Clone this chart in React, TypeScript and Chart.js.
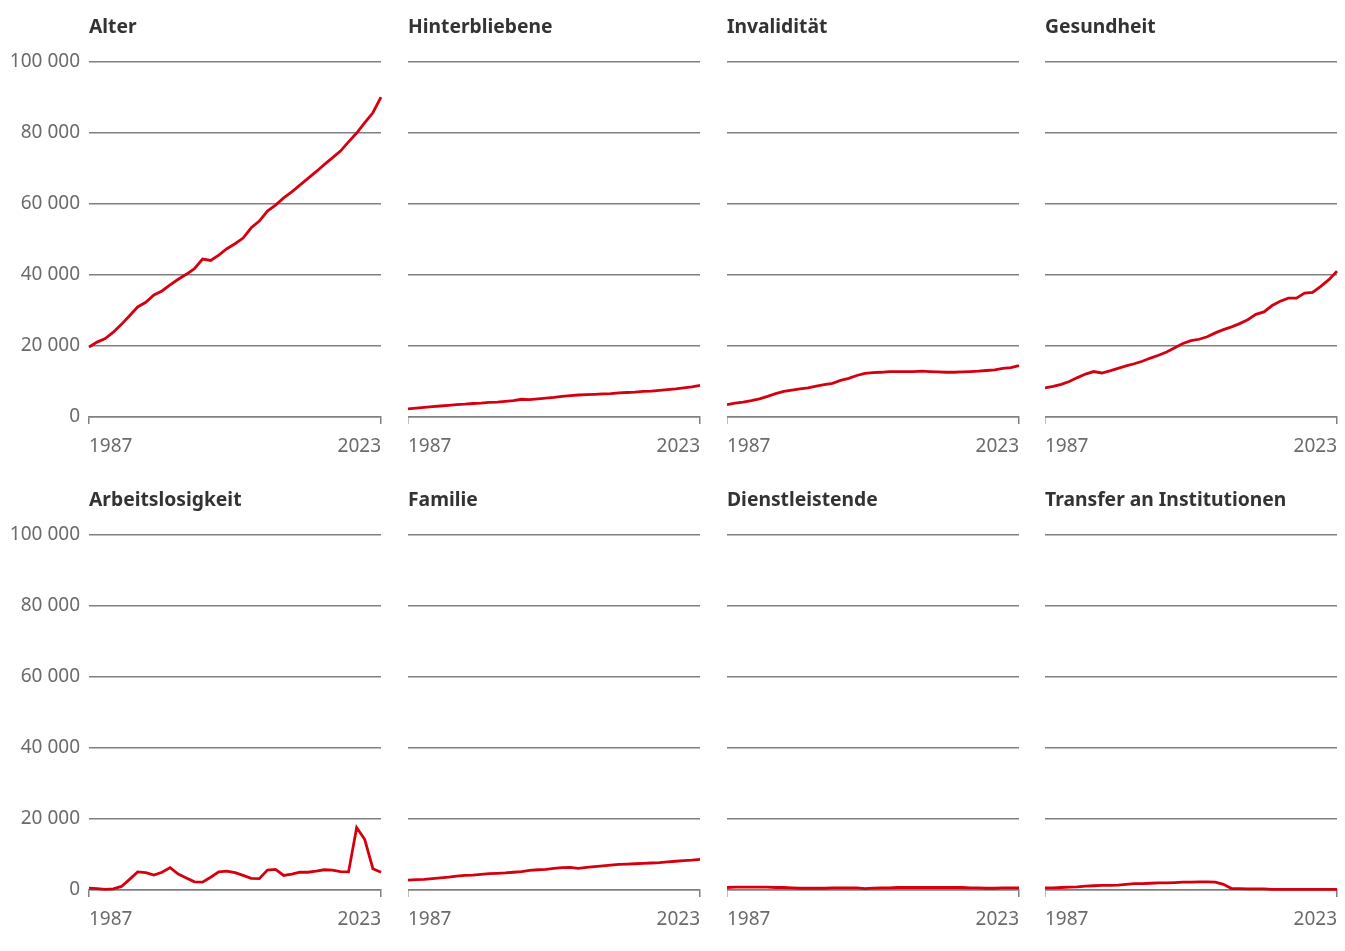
import React, { useEffect, useRef } from "react";
import { Chart, registerables } from "chart.js";

Chart.register(...registerables);

const years = [
  1987, 1988, 1989, 1990, 1991, 1992, 1993, 1994, 1995, 1996, 1997, 1998, 1999,
  2000, 2001, 2002, 2003, 2004, 2005, 2006, 2007, 2008, 2009, 2010, 2011, 2012,
  2013, 2014, 2015, 2016, 2017, 2018, 2019, 2020, 2021, 2022, 2023,
];

const alter = [
  19700, 21100, 22100, 23900, 26100, 28500, 31000, 32300, 34400, 35500, 37200,
  38800, 40200, 41800, 44500, 44100, 45600, 47400, 48800, 50400, 53300, 55200,
  58000, 59700, 61700, 63400, 65300, 67200, 69100, 71100, 73000, 74900, 77500,
  80000, 82900, 85700, 90100,
];

const hinterbliebene = [
  2300, 2500, 2700, 2900, 3100, 3300, 3500, 3600, 3800, 3900, 4100, 4200, 4400,
  4600, 5000, 4900, 5100, 5300, 5500, 5800, 6000, 6200, 6300, 6400, 6500, 6600,
  6800, 6900, 7000, 7200, 7300, 7500, 7700, 7900, 8200, 8500, 8900,
];

const invaliditaet = [
  3500, 3900, 4200, 4600, 5100, 5800, 6600, 7200, 7600, 7900, 8200, 8700, 9100,
  9500, 10300, 10900, 11700, 12300, 12500, 12600, 12800, 12800, 12800, 12800,
  12900, 12800, 12700, 12600, 12600, 12700, 12800, 12900, 13100, 13300, 13700,
  13900, 14500,
];

const gesundheit = [
  8200, 8600, 9200, 10000, 11100, 12100, 12800, 12400, 13000, 13700, 14400,
  15000, 15700, 16600, 17400, 18300, 19500, 20700, 21500, 21900, 22600, 23700,
  24600, 25400, 26300, 27400, 28900, 29600, 31400, 32600, 33500, 33500, 34900,
  35100, 36800, 38700, 41100,
];

const arbeitslosigkeit = [
  500, 400, 200, 300, 1000, 3000, 5100, 4900, 4200, 5000, 6300, 4500, 3400,
  2300, 2200, 3600, 5100, 5300, 4900, 4100, 3300, 3200, 5600, 5800, 4100, 4500,
  5000, 5000, 5300, 5700, 5600, 5200, 5100, 17600, 14200, 6000, 5000,
];

const familie = [
  2800, 2900, 3000, 3200, 3400, 3600, 3900, 4100, 4200, 4400, 4600, 4700, 4800,
  5000, 5200, 5500, 5700, 5800, 6100, 6300, 6400, 6100, 6400, 6600, 6800, 7000,
  7200, 7300, 7400, 7500, 7600, 7700, 7900, 8100, 8300, 8400, 8600,
];

const dienstleistende = [
  700, 800, 800, 800, 800, 800, 700, 700, 600, 500, 500, 500, 500, 600, 600,
  600, 600, 400, 500, 600, 600, 700, 700, 700, 700, 700, 700, 700, 700, 700,
  600, 600, 500, 500, 600, 600, 600,
];

const transfer = [
  600, 600, 700, 800, 900, 1100, 1200, 1300, 1300, 1400, 1600, 1800, 1800,
  1900, 2000, 2000, 2100, 2200, 2200, 2300, 2300, 2200, 1600, 400, 400, 300,
  300, 300, 200, 200, 200, 200, 200, 200, 200, 200, 200,
];

const titles = [
  "Alter",
  "Hinterbliebene",
  "Invalidität",
  "Gesundheit",
  "Arbeitslosigkeit",
  "Familie",
  "Dienstleistende",
  "Transfer an Institutionen",
];

const series = [
  alter,
  hinterbliebene,
  invaliditaet,
  gesundheit,
  arbeitslosigkeit,
  familie,
  dienstleistende,
  transfer,
];

const yTickValues = [0, 20000, 40000, 60000, 80000, 100000];
const xTickValues = [1987, 2023];

const RED = "#d5000f";
const GRID = "#808080";
const TICK = "#6b6b6b";
const TITLE = "#333333";
const FONT = "'Noto Sans', 'Open Sans', sans-serif";

const PLOT_LEFTS = [89, 408, 727, 1045];
const PLOT_W = 292;
const ROW_H = 473;
const Y_AXIS_W = 89;
const RIGHT_PAD = 4;
const TITLE_SIZE = 19.3;

function fmt(v: number): string {
  return String(v).replace(/\B(?=(\d{3})+(?!\d))/g, " ");
}

function Panel({ index }: { index: number }) {
  const ref = useRef<HTMLCanvasElement | null>(null);
  const col = index % 4;
  const row = Math.floor(index / 4);
  const showY = col === 0;
  const yW = showY ? Y_AXIS_W : 0;
  const width = yW + PLOT_W + RIGHT_PAD;
  const left = PLOT_LEFTS[col] - yW;

  useEffect(() => {
    if (!ref.current) return;
    const values = series[index];
    const chart = new Chart(ref.current, {
      type: "line",
      data: {
        datasets: [
          {
            data: years.map((y, i) => ({ x: y, y: values[i] })),
            borderColor: RED,
            borderWidth: 2.8,
            pointRadius: 0,
            tension: 0,
            fill: false,
            clip: false as any,
          },
        ],
      },
      options: {
        animation: false,
        responsive: false,
        devicePixelRatio: 1,
        layout: { padding: { left: 0, right: RIGHT_PAD, top: 0, bottom: 0 } },
        plugins: {
          legend: { display: false },
          tooltip: { enabled: false },
          title: {
            display: true,
            text: titles[index],
            align: "start",
            fullSize: false,
            color: TITLE,
            font: { family: FONT, size: TITLE_SIZE, weight: "bold" },
            padding: { top: 15.5, bottom: 62 - 15.5 - TITLE_SIZE * 1.2 },
          },
        },
        scales: {
          x: {
            type: "linear",
            min: 1987,
            max: 2023,
            afterBuildTicks: (scale: any) => {
              scale.ticks = xTickValues.map((v) => ({ value: v }));
            },
            afterFit: (scale: any) => {
              scale.height = 56;
              scale.paddingLeft = 0;
              scale.paddingRight = 0;
            },
            ticks: {
              align: "inner",
              maxRotation: 0,
              autoSkip: false,
              color: TICK,
              padding: 11,
              font: { family: FONT, size: 19 },
              callback: (v: any) => String(v),
            },
            grid: {
              display: true,
              drawOnChartArea: false,
              drawTicks: true,
              tickLength: 7,
              color: GRID,
              lineWidth: 1.5,
            },
            border: { display: true, color: GRID, width: 1.5 },
          },
          y: {
            type: "linear",
            min: 0,
            max: 100000,
            afterBuildTicks: (scale: any) => {
              scale.ticks = yTickValues.map((v) => ({ value: v }));
            },
            afterFit: (scale: any) => {
              scale.width = yW;
            },
            ticks: {
              display: showY,
              color: TICK,
              padding: 9,
              font: { family: FONT, size: 19 },
              callback: (v: any) => fmt(Number(v)),
            },
            grid: {
              display: true,
              drawTicks: false,
              color: GRID,
              lineWidth: 1.5,
            },
            border: { display: false },
          },
        },
      } as any,
    });
    return () => chart.destroy();
  }, [index]);

  return (
    <canvas
      ref={ref}
      width={width}
      height={ROW_H}
      style={{
        position: "absolute",
        left,
        top: row * ROW_H,
        width,
        height: ROW_H,
      }}
    />
  );
}

export default function App() {
  return (
    <div
      style={{
        position: "absolute",
        left: 0,
        top: 0,
        width: 1345,
        height: 951,
        background: "#ffffff",
      }}
    >
      {titles.map((_, i) => (
        <Panel key={i} index={i} />
      ))}
    </div>
  );
}
